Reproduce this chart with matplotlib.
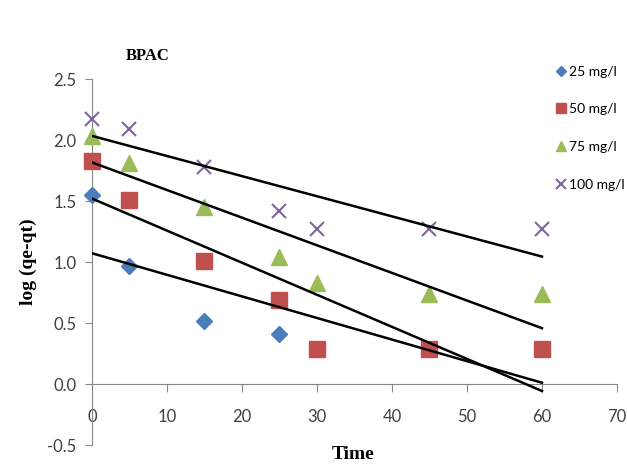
import numpy as np
import matplotlib.pyplot as plt

# ----- Data -----
time_25 = [0, 5, 15, 25, 30, 45, 60]
log_25 = [1.55, 0.97, 0.52, 0.41, 0.29, 0.29, 0.29]   # last three sit under the red squares
time_50 = [0, 5, 15, 25, 30, 45, 60]
log_50 = [1.83, 1.51, 1.01, 0.69, 0.29, 0.29, 0.29]
time_75 = [0, 5, 15, 25, 30, 45, 60]
log_75 = [2.03, 1.81, 1.45, 1.04, 0.83, 0.74, 0.74]
time_100 = [0, 5, 15, 25, 30, 45, 60]
log_100 = [2.17, 2.09, 1.78, 1.42, 1.27, 1.27, 1.27]

labels = ['25 mg/l', '50 mg/l', '75 mg/l', '100 mg/l']
xticks = [0, 10, 20, 30, 40, 50, 60, 70]
yticks = [-0.5, 0.0, 0.5, 1.0, 1.5, 2.0, 2.5]

# ----- Figure -----
fig = plt.figure(figsize=(6.27, 4.65), dpi=100)
ax = fig.add_axes([0.1467, 0.043, 0.8373, 0.787])

tick_font = 'Lato'
serif = 'Liberation Serif'

series = [
    (time_25, log_25, 'D', '#4A7EBB', 8, 3),
    (time_50, log_50, 's', '#C0504D', 11, 4),
    (time_75, log_75, '^', '#9BBB59', 11, 5),
    (time_100, log_100, 'x', '#8064A2', 10, 6),
]

for (t, y, m, c, ms, z), lab in zip(series, labels):
    if m == 'x':
        ax.plot(t, y, ls='none', marker=m, color=c, ms=ms, mew=1.5,
                label=lab, clip_on=False, zorder=z)
    else:
        ax.plot(t, y, ls='none', marker=m, color=c, mec=c, ms=ms,
                label=lab, clip_on=False, zorder=z)
    # linear trendline
    k, b = np.polyfit(t, y, 1)
    xs = np.array([0, 60])
    ax.plot(xs, k * xs + b, color='black', lw=1.8, zorder=10)

ax.set_xlim(0, 70)
ax.set_ylim(-0.5, 2.5)
ax.set_xticks(xticks)
ax.set_yticks(yticks)
ax.set_yticklabels([f'{v:.1f}' for v in yticks])

for s in ['top', 'right']:
    ax.spines[s].set_visible(False)
ax.spines['bottom'].set_position(('data', 0))
ax.spines['bottom'].set_color('#888888')
ax.spines['left'].set_color('#888888')
ax.tick_params(axis='x', direction='out', length=6, pad=12, color='#888888',
               labelsize=12, labelcolor='#404040')
ax.tick_params(axis='y', direction='out', length=5, pad=6, color='#888888',
               labelsize=12, labelcolor='#404040')
for lab in ax.get_xticklabels() + ax.get_yticklabels():
    lab.set_fontfamily(tick_font)

fig.text(0.20, 0.88, 'BPAC', fontfamily=serif, fontweight='bold', fontsize=12,
         ha='left', va='center')
fig.text(0.045, 0.437, 'log (qe-qt)', fontfamily=serif, fontweight='bold',
         fontsize=14, rotation=90, ha='center', va='center')
fig.text(0.563, 0.022, 'Time', fontfamily=serif, fontweight='bold', fontsize=14,
         ha='center', va='center')

leg = fig.legend(loc='upper left', bbox_to_anchor=(0.875, 0.871), frameon=False,
                 prop={'family': tick_font, 'size': 10}, handletextpad=0.1,
                 handlelength=1.0, labelspacing=1.85, markerscale=0.7,
                 borderaxespad=0)

fig.savefig('out.png', dpi=100)
